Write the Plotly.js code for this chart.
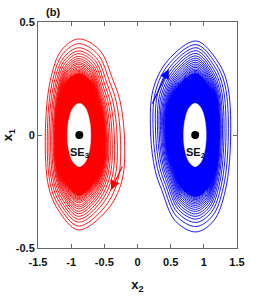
<!DOCTYPE html>
<html><head><meta charset="utf-8">
<script src="https://cdn.plot.ly/plotly-3.0.1.min.js"></script>
<style>html,body{margin:0;padding:0;background:#fff}#c{width:262px;height:300px}</style>
</head><body><div id="c"></div>
<script>
// equilibrium points
const eqX = [-0.877, 0.87];
const eqY = [0, 0];
const eqLabels = ['SE<sub>3</sub>', 'SE<sub>2</sub>'];

// outer loop outline (normalised), read from the outermost orbits
const redShapeU = [-1.00, -0.85, -0.52, -0.02, 0.45, 0.75, 0.90, 1.00, 0.95, 0.62, -0.03, -0.62, -0.90];
const redShapeV = [0.00, 0.57, 0.885, 1.00, 0.885, 0.57, 0.365, 0.00, -0.476, -0.79, -1.00, -0.79, -0.55];
const blueShapeU = [1.00, 0.85, 0.52, 0.02, -0.45, -0.75, -0.90, -1.00, -0.95, -0.62, 0.03, 0.62, 0.90];
const blueShapeV = [0.00, -0.57, -0.885, -1.00, -0.885, -0.57, -0.365, 0.00, 0.476, 0.79, 1.00, 0.79, 0.55];
// oval outline of the empty hole
const ovalU = [-1.00, -0.87, -0.5, 0.00, 0.5, 0.87, 1.00, 0.87, 0.5, 0.00, -0.5, -0.87];
const ovalV = [0.00, 0.5, 0.87, 1.00, 0.87, 0.5, 0.00, -0.5, -0.87, -1.00, -0.87, -0.5];

// red orbit (around SE3): extents of each visible loop, relative to SE3
const redTop    = [0.425,0.404,0.386,0.372,0.360,0.348,0.338,0.329,0.320,0.313,0.305,0.298,0.292,0.286,0.281,0.276];
const redBottom = [0.420,0.403,0.386,0.373,0.360,0.348,0.338,0.327,0.318,0.310,0.300,0.293,0.287,0.282,0.277,0.272];
const redLeft   = [0.513,0.483,0.457,0.432,0.412,0.392,0.380,0.372,0.366,0.362,0.359,0.357,0.355,0.354,0.353,0.352];
const redRight  = [0.678,0.618,0.568,0.527,0.493,0.463,0.440,0.422,0.408,0.397,0.389,0.383,0.378,0.375,0.372,0.370];
const redDense  = [0.272, 0.268, 0.350, 0.366];   // top, bottom, left, right
const redHole   = [0.140, 0.140, 0.180, 0.172];

// blue orbit (around SE2)
const blueTop    = [0.416,0.400,0.386,0.373,0.361,0.350,0.340,0.331,0.322,0.314,0.306,0.299,0.292,0.286,0.281,0.276];
const blueBottom = [0.429,0.405,0.387,0.372,0.360,0.349,0.338,0.329,0.320,0.312,0.305,0.298,0.292,0.286,0.281,0.276];
const blueLeft   = [0.671,0.632,0.596,0.565,0.541,0.520,0.502,0.487,0.474,0.463,0.454,0.447,0.441,0.437,0.434,0.432];
const blueRight  = [0.535,0.499,0.464,0.434,0.410,0.392,0.378,0.368,0.361,0.356,0.352,0.349,0.347,0.346,0.345,0.344];
const blueDense  = [0.272, 0.272, 0.428, 0.342];
const blueHole   = [0.140, 0.140, 0.175, 0.165];

// direction arrows: [tailX, tailY, headX, headY]
const redArrow  = [-0.218, -0.133, -0.399, -0.243];
const blueArrow = [0.214, 0.133, 0.470, 0.292];

const xTicks = [-1.5, -1, -0.5, 0, 0.5, 1, 1.5];
const xTickText = ['-1.5', '-1', '-0.5', '0', '0.5', '1', '1.5'];
const yTicks = [-0.5, 0, 0.5];
const yTickText = ['-0.5', '0', '0.5'];

function loop(cx, cy, U, V, top, bottom, left, right) {
  const xs = [], ys = [];
  for (let k = 0; k <= U.length; k++) {
    const j = k % U.length;
    xs.push(cx + (U[j] >= 0 ? U[j] * right : U[j] * left));
    ys.push(cy + (V[j] >= 0 ? V[j] * top : V[j] * bottom));
  }
  return {xs, ys};
}

const traces = [];
function addOrbit(ci, U, V, T, B, L, R, dense, hole, color) {
  const cx = eqX[ci], cy = eqY[ci];
  const d = loop(cx, cy, U, V, dense[0], dense[1], dense[2], dense[3]);
  traces.push({x: d.xs, y: d.ys, mode: 'lines', fill: 'toself', fillcolor: color,
    line: {color: color, width: 1, shape: 'spline', smoothing: 1}, hoverinfo: 'skip'});
  const h = loop(cx, cy, ovalU, ovalV, hole[0], hole[1], hole[2], hole[3]);
  traces.push({x: h.xs, y: h.ys, mode: 'lines', fill: 'toself', fillcolor: '#ffffff',
    line: {color: '#ffffff', width: 0.5, shape: 'spline', smoothing: 1}, hoverinfo: 'skip'});
  for (let i = 0; i < T.length; i++) {
    const l = loop(cx, cy, U, V, T[i], B[i], L[i], R[i]);
    traces.push({x: l.xs, y: l.ys, mode: 'lines',
      line: {color: color, width: 0.9, shape: 'spline', smoothing: 1}, hoverinfo: 'skip'});
  }
}
addOrbit(0, redShapeU, redShapeV, redTop, redBottom, redLeft, redRight, redDense, redHole, '#ff0000');
addOrbit(1, blueShapeU, blueShapeV, blueTop, blueBottom, blueLeft, blueRight, blueDense, blueHole, '#0000ff');

traces.push({x: eqX, y: eqY, mode: 'markers', marker: {color: '#000', size: 8}, hoverinfo: 'skip'});

const fontB = {family: 'Liberation Sans, Arial, sans-serif', size: 11, color: '#111', weight: 'bold'};

const annotations = [
  {x: redArrow[2], y: redArrow[3], ax: redArrow[0], ay: redArrow[1], axref: 'x', ayref: 'y',
   xref: 'x', yref: 'y', text: '', showarrow: true, arrowhead: 2, arrowsize: 1.6, arrowwidth: 1.2, arrowcolor: '#ff0000'},
  {x: blueArrow[2], y: blueArrow[3], ax: blueArrow[0], ay: blueArrow[1], axref: 'x', ayref: 'y',
   xref: 'x', yref: 'y', text: '', showarrow: true, arrowhead: 2, arrowsize: 1.6, arrowwidth: 1.2, arrowcolor: '#0000ff'},
  {x: eqX[0], y: eqY[0], xref: 'x', yref: 'y', text: eqLabels[0], showarrow: false, yshift: -18, font: fontB},
  {x: eqX[1], y: eqY[1], xref: 'x', yref: 'y', text: eqLabels[1], showarrow: false, yshift: -18, font: fontB},
  {x: 0.03, y: 1.045, xref: 'paper', yref: 'paper', text: '(b)', showarrow: false, xanchor: 'left', yanchor: 'middle', font: fontB}
];

const axisCommon = {showgrid: false, zeroline: false, showline: true, linecolor: '#666', linewidth: 1,
  mirror: 'ticks', ticks: 'inside', ticklen: 4, tickcolor: '#666', tickfont: fontB};

const layout = {
  width: 262, height: 300,
  margin: {l: 38, r: 25, t: 22, b: 52},
  paper_bgcolor: '#fff', plot_bgcolor: '#fff',
  showlegend: false,
  xaxis: Object.assign({}, axisCommon, {range: [-1.5, 1.5], tickvals: xTicks, ticktext: xTickText, ticklabelstandoff: 4,
    title: {text: 'x<sub>2</sub>', font: {family: 'Liberation Sans, Arial, sans-serif', size: 13, color: '#111', weight: 'bold'}, standoff: 12}}),
  yaxis: Object.assign({}, axisCommon, {range: [-0.5, 0.5], tickvals: yTicks, ticktext: yTickText,
    title: {text: 'x<sub>1</sub>', font: {family: 'Liberation Sans, Arial, sans-serif', size: 13, color: '#111', weight: 'bold'}, standoff: 10}}),
  annotations: annotations
};

Plotly.newPlot('c', traces, layout, {staticPlot: true, displayModeBar: false});
</script></body></html>
